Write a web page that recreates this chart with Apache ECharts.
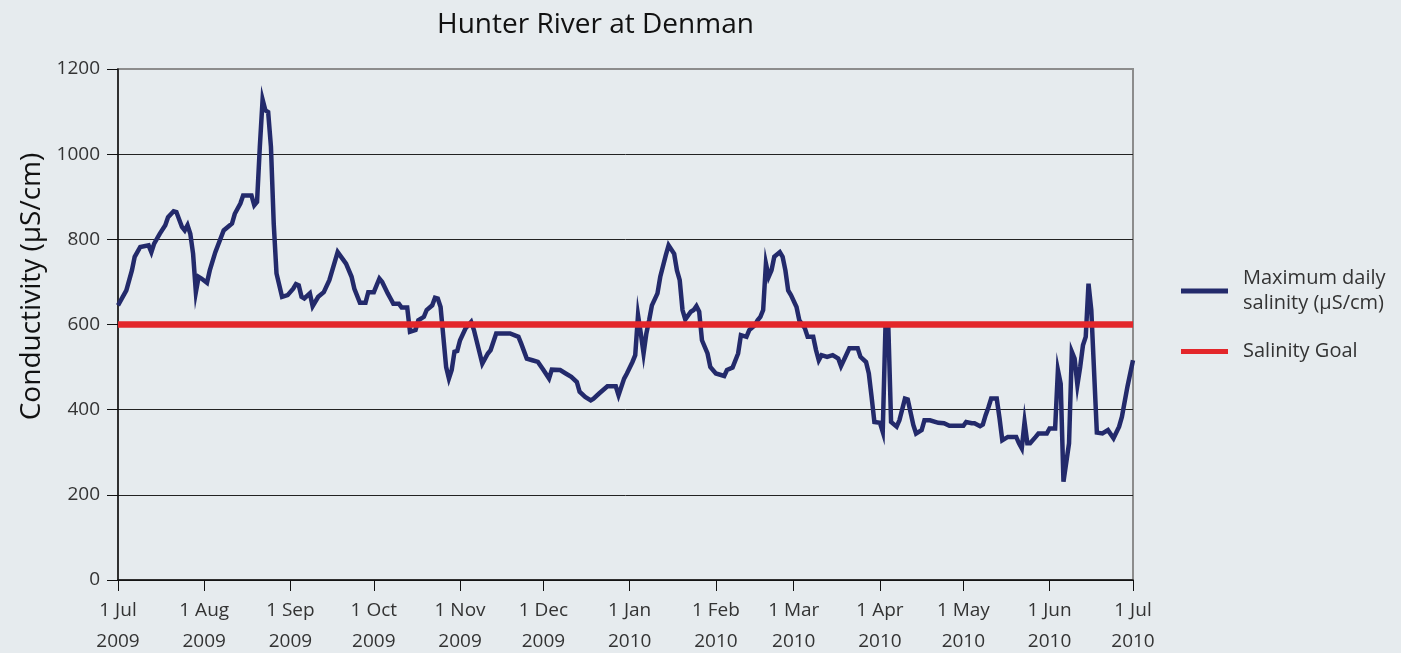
<!DOCTYPE html>
<html>
<head>
<meta charset="utf-8">
<script src="https://cdn.jsdelivr.net/npm/echarts@6/dist/echarts.min.js"></script>
<style>
html,body{margin:0;padding:0;background:#e6ebee;}
#chart{width:1401px;height:653px;}
</style>
</head>
<body>
<div id="chart"></div>
<script>
// Day offsets counted from 1 Jul 2009
const dayOffsets = [0,3,5,6,8,11,12,13,15,17,18,20,21,23,24,25,26,27,28,29,30,32,33,35,38,41,42,44,45,48,49,50,51,52,53,54,55,56,57,59,61,63,64,65,66,67,69,70,72,74,76,79,82,84,85,87,89,90,92,94,95,97,98,99,101,102,104,105,107,108,110,111,113,114,115,116,117,118,119,120,121,122,123,125,127,128,131,133,134,136,141,144,145,147,149,151,153,155,156,159,161,163,165,166,168,170,171,173,176,179,180,182,183,185,186,187,188,189,190,191,192,194,195,197,198,200,201,202,203,204,206,207,208,209,210,212,213,215,218,219,221,223,224,226,227,229,230,231,232,233,234,235,236,238,239,240,241,242,244,245,247,248,250,251,252,253,255,257,259,260,262,263,266,267,269,270,271,272,274,275,276,277,278,280,281,283,284,286,287,289,290,292,295,297,299,304,305,307,308,310,311,312,313,314,316,317,318,320,323,324,325,326,327,328,330,331,334,335,337,338,339,340,342,343,344,345,346,347,348,349,350,352,354,356,358,360,361,363,365];
const maxSalinity = [645,680,727,759,782,786,770,790,813,833,852,866,864,829,821,833,813,766,676,712,708,698,727,770,821,837,860,884,903,903,880,888,1017,1128,1103,1099,1017,837,720,665,669,684,695,692,665,661,673,643,665,676,704,770,743,712,684,651,651,676,676,708,700,673,661,649,649,640,640,583,587,610,618,634,645,663,661,641,571,500,473,493,536,538,563,591,606,587,508,532,540,579,579,571,555,520,516,512,493,473,494,493,485,477,465,442,430,422,426,438,455,455,434,473,485,512,528,622,579,532,579,610,645,673,712,763,786,766,727,704,634,612,630,634,643,630,563,532,500,485,479,493,499,532,575,571,587,598,610,618,634,743,712,727,759,770,759,727,680,669,641,610,591,571,571,540,516,528,524,528,520,502,530,544,544,524,512,485,430,371,369,348,598,598,371,360,375,426,424,364,344,352,375,375,369,368,362,362,371,368,368,361,365,387,405,426,426,380,328,336,336,321,309,371,321,321,336,344,344,356,356,493,461,231,321,536,520,458,500,551,571,696,634,346,344,352,333,360,383,454,516];
const goalDays = [0,365];
const goalValues = [600,600];
const xTickDates = ['2009-07-01','2009-08-01','2009-09-01','2009-10-01','2009-11-01','2009-12-01','2010-01-01','2010-02-01','2010-03-01','2010-04-01','2010-05-01','2010-06-01','2010-07-01'];
const xTickLabels = ['1 Jul\n2009','1 Aug\n2009','1 Sep\n2009','1 Oct\n2009','1 Nov\n2009','1 Dec\n2009','1 Jan\n2010','1 Feb\n2010','1 Mar\n2010','1 Apr\n2010','1 May\n2010','1 Jun\n2010','1 Jul\n2010'];
const seriesNames = ['Maximum daily\nsalinity (µS/cm)','Salinity Goal'];

const startUTC = Date.UTC(2009, 6, 1);
function dateToDay(s){ const p = s.split('-').map(Number); return Math.round((Date.UTC(p[0], p[1]-1, p[2]) - startUTC) / 86400000); }
const tickDays = xTickDates.map(dateToDay);

const chart = echarts.init(document.getElementById('chart'), null, {renderer:'canvas'});
const FONT = '"Open Sans", "Noto Sans", sans-serif';
chart.setOption({
  backgroundColor: '#e6ebee',
  animation: false,
  textStyle: {fontFamily: FONT},
  title: {
    text: 'Hunter River at Denman',
    left: 432, top: 6,
    textStyle: {fontFamily: FONT, fontSize: 28, fontWeight: 'normal', color: '#111'}
  },
  legend: {
    orient: 'vertical',
    left: 1176, top: 261,
    itemWidth: 47, itemHeight: 5, itemGap: 23,
    icon: 'rect',
    data: seriesNames,
    textStyle: {fontFamily: FONT, fontSize: 20, lineHeight: 25, color: '#333', padding: [0,0,0,10]}
  },
  grid: {
    left: 118, top: 69, right: 268, bottom: 73,
    show: true, borderColor: '#8c8c8c', borderWidth: 2,
    backgroundColor: 'transparent',
    containLabel: false,
    outerBoundsMode: 'none'
  },
  xAxis: {
    type: 'value',
    min: 0, max: 365,
    axisLine: {lineStyle: {color: '#111', width: 1.5}},
    axisTick: {show: true, length: 11, lineStyle: {color: '#111', width: 1}, customValues: tickDays},
    axisLabel: {
      customValues: tickDays,
      margin: 15,
      fontFamily: FONT, fontSize: 19, lineHeight: 31, color: '#333',
      hideOverlap: false,
      formatter: function(v){
        const i = tickDays.indexOf(Math.round(v));
        return i >= 0 ? xTickLabels[i] : '';
      }
    },
    splitLine: {show: false}
  },
  yAxis: {
    type: 'value',
    min: 0, max: 1200, interval: 200,
    name: 'Conductivity (µS/cm)',
    nameLocation: 'middle',
    nameGap: 72,
    nameTextStyle: {fontFamily: FONT, fontSize: 28, color: '#111', padding: [0,0,0,76]},
    axisLine: {show: true, lineStyle: {color: '#111', width: 1.5}},
    axisTick: {show: true, length: 11, lineStyle: {color: '#111', width: 1}},
    axisLabel: {margin: 18, fontFamily: FONT, fontSize: 19, color: '#333', formatter: function(v){ return String(v); }},
    splitLine: {show: true, lineStyle: {color: ['#222','#222','#222','#222','#222','#222','#8c8c8c'], width: 1}}
  },
  series: [
    {
      name: seriesNames[0],
      type: 'line',
      showSymbol: false,
      symbol: 'none',
      itemStyle: {color: '#232a6b'},
      lineStyle: {color: '#232a6b', width: 4.5, join: 'miter'},
      data: dayOffsets.map((d, i) => [d, maxSalinity[i]]),
      z: 2
    },
    {
      name: seriesNames[1],
      type: 'line',
      showSymbol: false,
      symbol: 'none',
      itemStyle: {color: '#e3262a'},
      lineStyle: {color: '#e3262a', width: 6.5},
      data: goalDays.map((d, i) => [d, goalValues[i]]),
      z: 3
    }
  ]
});
</script>
</body>
</html>
